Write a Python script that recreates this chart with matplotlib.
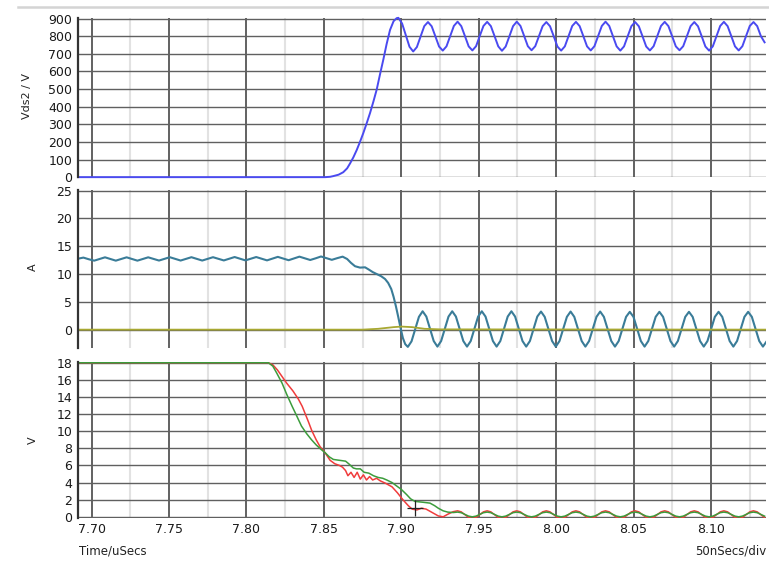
import numpy as np
import matplotlib.pyplot as plt
from matplotlib.lines import Line2D

# time window of the scope capture (uSecs)
t_min, t_max = 7.6912, 8.1355
major_ticks = [7.70, 7.75, 7.80, 7.85, 7.90, 7.95, 8.00, 8.05, 8.10]
minor_ticks = [7.725, 7.775, 7.825, 7.875, 7.925, 7.975, 8.025, 8.075, 8.125]
tick_labels = ["7.70", "7.75", "7.80", "7.85", "7.90", "7.95", "8.00", "8.05", "8.10"]

# ringing after the edge is sampled on a fixed step (1/8 of ring period)
ring_step = 0.0023888

# ---- Vds2 (V) ----
vds_edge_t = [7.6912, 7.8507, 7.8540, 7.8561, 7.8595, 7.8625, 7.8650, 7.8669, 7.8690,
              7.8712, 7.8733, 7.8754, 7.8776, 7.8798, 7.8820, 7.8841, 7.8862, 7.8884,
              7.8905, 7.8927, 7.8950, 7.8970]
vds_edge_v = [0, 0, 2, 6, 14, 28, 50, 78, 112, 154, 200, 249, 305, 364, 430, 497, 582,
              668, 755, 835, 885, 902]
vds_ring_t0 = 7.8981
vds_ring_v = [904, 872, 806, 740, 713, 738, 798, 857,
              880, 856, 799, 741, 718, 742, 800, 858,
              882, 857, 800, 742, 719, 743, 801, 858,
              881, 857, 800, 742, 717, 741, 799, 857,
              882, 858, 801, 743, 720, 743, 800, 857,
              880, 856, 799, 741, 718, 742, 800, 858,
              881, 857, 800, 742, 719, 743, 801, 858,
              882, 858, 800, 742, 718, 742, 800, 857,
              880, 856, 799, 741, 719, 743, 801, 858,
              881, 857, 800, 742, 720, 743, 800, 857,
              880, 856, 799, 741, 718, 742, 800, 858,
              881, 857, 800, 742, 719, 743, 801, 858,
              880, 857, 800, 765]

# ---- drain current (A) ----
cur_flat_t0 = 7.6912
cur_flat_step = 0.0034875
cur_flat_v = [12.75, 12.95, 12.65, 12.40, 12.70, 13.00, 12.70, 12.40, 12.70, 13.00,
              12.70, 12.40, 12.70, 13.00, 12.70, 12.42, 12.72, 13.02, 12.72, 12.42,
              12.72, 13.02, 12.72, 12.42, 12.72, 13.02, 12.72, 12.44, 12.74, 13.05,
              12.75, 12.45, 12.75, 13.05, 12.75, 12.45, 12.76, 13.08, 12.78, 12.48,
              12.80, 13.12, 12.82, 12.52, 12.82, 13.15, 12.85, 12.55, 12.85, 13.12]
cur_fall_t = [7.8650, 7.8675, 7.8701, 7.8733, 7.8766, 7.8790, 7.8815, 7.8840, 7.8870,
              7.8895, 7.8915, 7.8935, 7.8950, 7.8965, 7.8980, 7.8995, 7.9010, 7.9025]
cur_fall_v = [12.7, 12.0, 11.4, 11.15, 11.2, 10.8, 10.35, 10.0, 9.6, 9.1, 8.4, 7.3,
              5.9, 4.2, 2.3, 0.3, -1.5, -2.6]
cur_ring_t0 = 7.9042
cur_ring_v = [-3.1, -2.1, 0.1, 2.3, 3.3, 2.35, 0.15, -2.05,
              -3.05, -2.05, 0.15, 2.35, 3.3, 2.35, 0.15, -2.05,
              -3.05, -2.05, 0.15, 2.35, 3.3, 2.35, 0.15, -2.05,
              -3.05, -2.05, 0.15, 2.35, 3.3, 2.35, 0.15, -2.05,
              -3.05, -2.05, 0.15, 2.35, 3.25, 2.3, 0.15, -2.05,
              -3.05, -2.05, 0.15, 2.3, 3.25, 2.3, 0.15, -2.05,
              -3.05, -2.05, 0.15, 2.3, 3.25, 2.3, 0.15, -2.05,
              -3.05, -2.05, 0.15, 2.3, 3.2, 2.3, 0.15, -2.05,
              -3.05, -2.05, 0.15, 2.3, 3.2, 2.3, 0.15, -2.05,
              -3.05, -2.05, 0.15, 2.3, 3.2, 2.3, 0.15, -2.05,
              -3.05, -2.05, 0.15, 2.3, 3.2, 2.3, 0.15, -2.05,
              -3.05, -2.05, 0.15, 2.3, 3.2, 2.3, 0.15, -2.05,
              -3.05, -2.1]

# second current trace (olive)
aux_t = [7.6912, 7.8750, 7.8850, 7.8950, 7.9000, 7.9070, 7.9150, 7.9250, 8.1355]
aux_v = [0, 0, 0.15, 0.45, 0.55, 0.45, 0.15, 0.05, 0]

# ---- gate voltages (V) ----
green_edge_t = [7.6912, 7.8141, 7.8170, 7.8195, 7.8230, 7.8260, 7.8295, 7.8324, 7.8355,
                7.8389, 7.8420, 7.8450, 7.8480, 7.8507, 7.8535, 7.8561, 7.8600, 7.8640,
                7.8660, 7.8690, 7.8710, 7.8735, 7.8760, 7.8790, 7.8820, 7.8850, 7.8880,
                7.8906, 7.8940, 7.8970, 7.9000, 7.9034, 7.9060, 7.9088, 7.9140, 7.9185,
                7.9215, 7.9239, 7.9270, 7.9300, 7.9335]
green_edge_v = [18.0, 18.0, 17.6, 16.8, 15.6, 14.3, 12.9, 11.8, 10.6, 9.7, 9.0, 8.4,
                7.9, 7.5, 7.0, 6.7, 6.6, 6.5, 6.2, 5.7, 5.6, 5.6, 5.2, 5.1, 4.8, 4.6,
                4.5, 4.3, 4.0, 3.6, 3.2, 2.6, 2.1, 1.8, 1.7, 1.6, 1.3, 1.0, 0.7, 0.55,
                0.5]
red_edge_t = [7.6912, 7.8141, 7.8170, 7.8200, 7.8227, 7.8260, 7.8300, 7.8335, 7.8360,
              7.8378, 7.8400, 7.8421, 7.8450, 7.8475, 7.8507, 7.8540, 7.8570, 7.8600,
              7.8620, 7.8640, 7.8655, 7.8675, 7.8695, 7.8715, 7.8735, 7.8755, 7.8775,
              7.8795, 7.8815, 7.8840, 7.8864, 7.8900, 7.8940, 7.8975, 7.9010, 7.9045,
              7.9070, 7.9100, 7.9130, 7.9160, 7.9200, 7.9239, 7.9270, 7.9300, 7.9335]
red_edge_v = [18.0, 18.0, 17.75, 17.15, 16.45, 15.6, 14.7, 13.75, 12.9, 12.1, 11.1, 10.1,
              9.0, 8.2, 7.5, 6.6, 6.2, 6.0, 5.8, 5.4, 4.8, 5.2, 4.6, 5.2, 4.4, 4.9, 4.3,
              4.7, 4.3, 4.5, 4.2, 3.9, 3.5, 2.8, 2.0, 1.3, 0.9, 0.8, 1.0, 0.9, 0.5, 0.1,
              0.0, 0.3, 0.6]
gate_ring_t0 = 7.9363
green_ring_v = [0.55, 0.48, 0.28, 0.08, 0.0, 0.08, 0.28, 0.48] * 10 + [0.55, 0.48, 0.28, 0.08]
red_ring_v = [0.7, 0.58, 0.25, -0.08, -0.2, -0.08, 0.25, 0.58] * 10 + [0.7, 0.58, 0.25, -0.08]

# cursor mark
cursor_t = [7.9088]
cursor_v = [1.0]


def ring_times(t0, step, n):
    return list(t0 + step * np.arange(n))


vds_t = vds_edge_t + ring_times(vds_ring_t0, ring_step, len(vds_ring_v))
vds_v = vds_edge_v + vds_ring_v
cur_t = ring_times(cur_flat_t0, cur_flat_step, len(cur_flat_v)) + cur_fall_t + \
    ring_times(cur_ring_t0, ring_step, len(cur_ring_v))
cur_v = cur_flat_v + cur_fall_v + cur_ring_v
green_t = green_edge_t + ring_times(gate_ring_t0, ring_step, len(green_ring_v))
green_v = green_edge_v + green_ring_v
red_t = red_edge_t + ring_times(gate_ring_t0, ring_step, len(red_ring_v))
red_v = red_edge_v + red_ring_v


def style_axis(ax, yticks, ylim, show_x=False):
    ax.set_xlim(t_min, t_max)
    ax.set_ylim(*ylim)
    ax.set_xticks(major_ticks)
    ax.set_xticks(minor_ticks, minor=True)
    ax.set_yticks(yticks)
    ax.grid(which='minor', axis='x', color='#e2e2e2', lw=1.5)
    ax.grid(which='major', axis='x', color='#555555', lw=1.3)
    ax.grid(which='major', axis='y', color='#606060', lw=1.0)
    ax.set_axisbelow(True)
    for s in ['top', 'right', 'bottom']:
        ax.spines[s].set_visible(False)
    ax.spines['left'].set_color('#333333')
    ax.spines['left'].set_linewidth(1.6)
    ax.tick_params(which='both', length=0, labelsize=9, labelcolor='#1a1a1a', pad=4)
    if show_x:
        ax.set_xticklabels(tick_labels)
    else:
        ax.set_xticklabels([])


W, H = 769, 563
fig = plt.figure(figsize=(W / 100, H / 100), dpi=100)
left, width = 78 / W, 688 / W
ax1 = fig.add_axes([left, 1 - 177.5 / H, width, 159.5 / H])
ax2 = fig.add_axes([left, 1 - 348 / H, width, 158 / H])
ax3 = fig.add_axes([left, 1 - 517.5 / H, width, 155.5 / H])

ax1.plot(vds_t, vds_v, color='#4a4af0', lw=1.4, clip_on=False)
style_axis(ax1, range(0, 901, 100), (-2, 903))

ax2.plot(cur_t, cur_v, color='#3a7c98', lw=1.5)
ax2.plot(aux_t, aux_v, color='#a8a832', lw=1.3)
style_axis(ax2, range(0, 26, 5), (-3.3, 25.1))

ax3.plot(red_t, red_v, color='#f03c3c', lw=1.1)
ax3.plot(green_t, green_v, color='#3c9c3c', lw=1.1)
ax3.plot(cursor_t, cursor_v, marker='+', color='#222222', ms=12, mew=0.9, ls='none')
style_axis(ax3, range(0, 19, 2), (-0.08, 18.08), show_x=True)

fig.text(27 / W, 1 - 96 / H, 'Vds2 / V', rotation=90, ha='center', va='center',
         fontsize=8, color='#222222')
fig.text(33 / W, 1 - 267 / H, 'A', rotation=90, ha='center', va='center',
         fontsize=8, color='#222222')
fig.text(33 / W, 1 - 440 / H, 'V', rotation=90, ha='center', va='center',
         fontsize=8, color='#222222')
fig.text(79 / W, 1 - 551 / H, 'Time/uSecs', ha='left', va='center', fontsize=8.5,
         color='#222222')
fig.text(766 / W, 1 - 551 / H, '50nSecs/div', ha='right', va='center', fontsize=8.5,
         color='#222222')

# thin header rule above the plots
fig.add_artist(Line2D([18 / W, 1], [1 - 7 / H, 1 - 7 / H], color='#d4d4d4', lw=1.8))

fig.savefig('out.png', dpi=100)
